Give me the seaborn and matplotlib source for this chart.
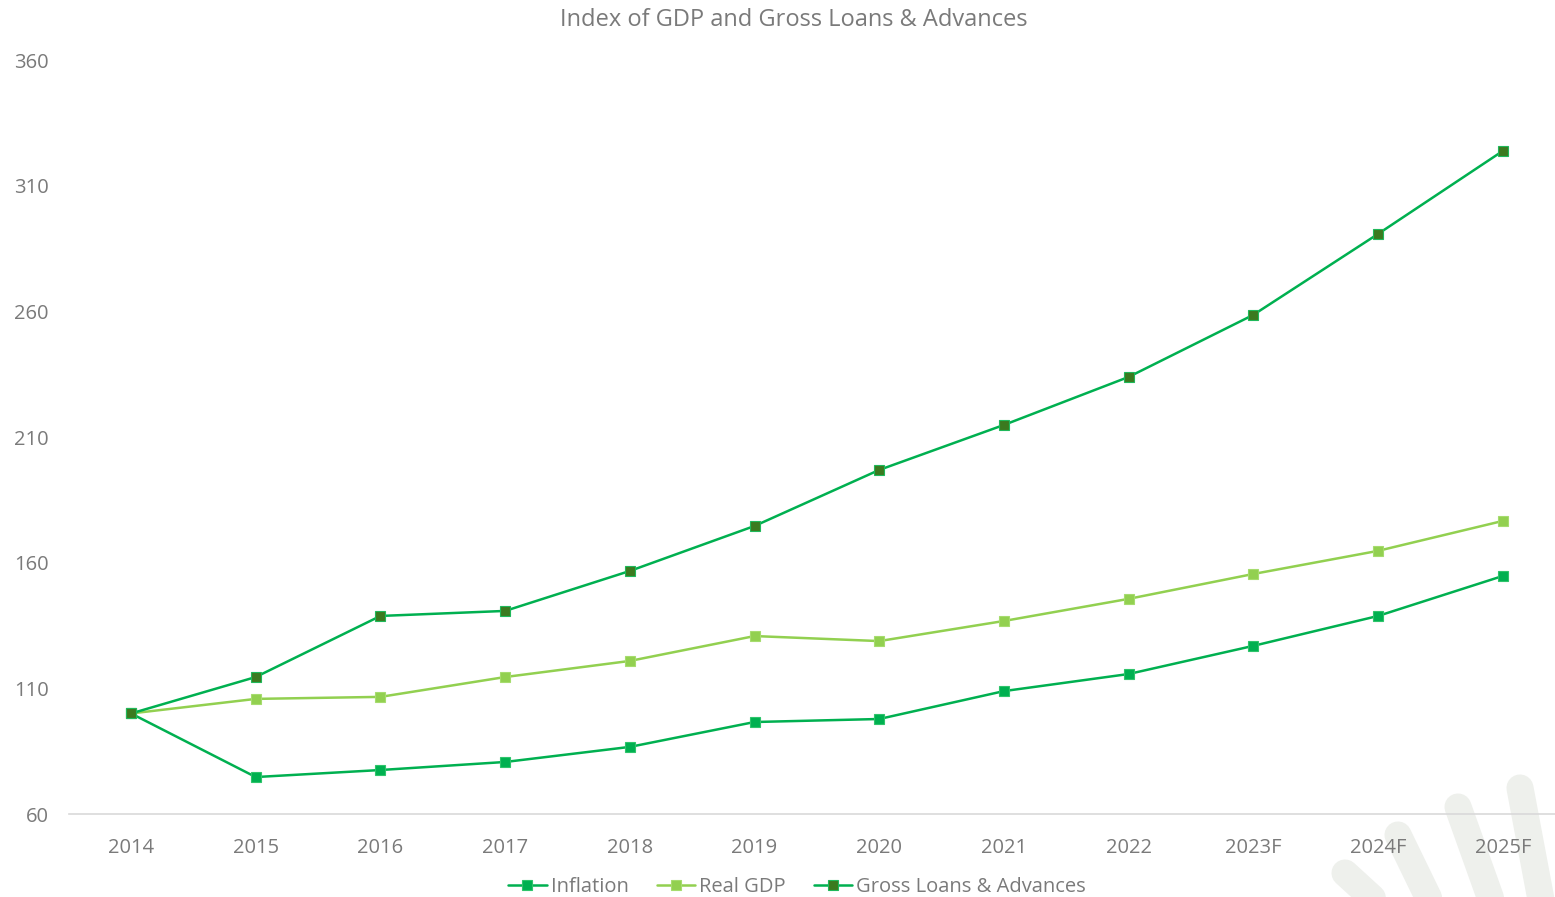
import matplotlib
matplotlib.use("Agg")
import matplotlib.pyplot as plt
from matplotlib.lines import Line2D
import seaborn as sns
import pandas as pd

years = ["2014", "2015", "2016", "2017", "2018", "2019", "2020", "2021",
         "2022", "2023F", "2024F", "2025F"]
inflation = [100, 74.7, 77.5, 80.7, 86.7, 96.6, 97.8, 108.9, 115.7, 126.9, 138.8, 154.7]
real_gdp = [100, 105.8, 106.6, 114.5, 120.9, 130.8, 128.8, 136.8, 145.6, 155.5, 164.7, 176.6]
gross_loans = [100, 114.5, 138.8, 140.8, 156.7, 174.6, 196.9, 214.8, 233.9, 258.6, 290.8, 323.8]

y_ticks = [60, 110, 160, 210, 260, 310, 360]

sns.set_theme(style="white")
plt.rcParams["font.family"] = ["Open Sans", "DejaVu Sans"]

TEXT = "#7a7a7a"
series = [
    ("Inflation", inflation, "#00b050", "#00b050", "#2ec46b"),
    ("Real GDP", real_gdp, "#92d050", "#92d050", "#a6dc6e"),
    ("Gross Loans & Advances", gross_loans, "#00b050", "#3b7a1f", "#1fb85a"),
]

fig = plt.figure(figsize=(15.55, 8.97), dpi=100)

# decorative brush strokes in the lower-right corner
W, H = 1555, 897
strokes = [((1345, 873), (1380, 905)), ((1398, 835), (1432, 905)),
           ((1458, 807), (1493, 905)), ((1520, 788), (1542, 905))]
for (x0, y0), (x1, y1) in strokes:
    fig.add_artist(Line2D([x0 / W, x1 / W], [1 - y0 / H, 1 - y1 / H],
                          transform=fig.transFigure, color="#eef0ec",
                          linewidth=19.5, solid_capstyle="round", zorder=0))

ax = fig.add_axes([68.7 / W, 1 - 814 / H, 1 - 68.7 / W, (814 - 60) / H])
ax.patch.set_alpha(0)

for name, vals, lc, fc, ec in series:
    df = pd.DataFrame({"year": years, "value": vals})
    sns.lineplot(data=df, x="year", y="value", ax=ax, sort=False, color=lc,
                 linewidth=1.8, marker="s", markersize=7.5,
                 markerfacecolor=fc, markeredgecolor=ec, markeredgewidth=0.8,
                 label=name)

ax.set_xlim(-0.5, (W - 68.7) / 124.7 - 0.5)
ax.set_ylim(60, 360)
ax.set_yticks(y_ticks)
ax.set_xlabel("")
ax.set_ylabel("")
for side in ["top", "right", "left"]:
    ax.spines[side].set_visible(False)
ax.spines["bottom"].set_color("#d9d9d9")
ax.spines["bottom"].set_linewidth(1.2)
ax.tick_params(axis="both", length=0, labelsize=14.5, labelcolor=TEXT)
ax.tick_params(axis="x", pad=17)
ax.tick_params(axis="y", pad=14.5)

fig.suptitle("Index of GDP and Gross Loans & Advances", x=794 / W, y=1 - 20 / H,
             va="center", fontsize=17, color=TEXT)

leg = ax.legend(loc="center", bbox_to_anchor=(797 / W, 1 - 887 / H),
                bbox_transform=fig.transFigure, ncol=3, frameon=False,
                fontsize=14.5, handlelength=1.9, handletextpad=0.2,
                columnspacing=1.4, borderpad=0)
for t in leg.get_texts():
    t.set_color(TEXT)

fig.savefig("out.png", dpi=100)
